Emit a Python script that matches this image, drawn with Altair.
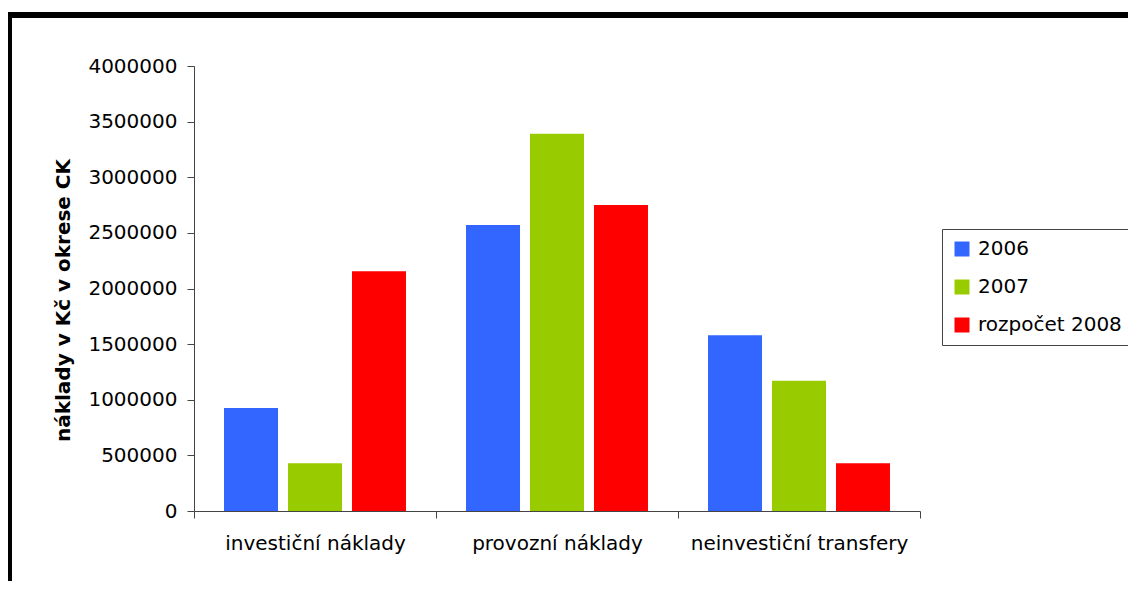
import altair as alt
import pandas as pd

categories = ["investiční náklady", "provozní náklady", "neinvestiční transfery"]
series = ["2006", "2007", "rozpočet 2008"]
values_2006 = [925000, 2570000, 1580000]
values_2007 = [430000, 3390000, 1170000]
values_2008 = [2155000, 2750000, 430000]
colors = ["#3366FF", "#99CC00", "#FF0000"]
y_ticks = [0, 500000, 1000000, 1500000, 2000000, 2500000, 3000000, 3500000, 4000000]

rows = []
for s, vals in zip(series, [values_2006, values_2007, values_2008]):
    for c, v in zip(categories, vals):
        rows.append({"kategorie": c, "rok": s, "hodnota": v})
df = pd.DataFrame(rows)

FONT = "DejaVu Sans"

bars = alt.Chart(df).mark_bar().encode(
    x=alt.X("kategorie:N", sort=categories,
            scale=alt.Scale(paddingInner=0, paddingOuter=0),
            axis=alt.Axis(title=None, labelAngle=0, tickBand="extent",
                          labelFontSize=20, labelFont=FONT, labelColor="black",
                          labelPadding=15, tickSize=7, domainColor="#444444",
                          tickColor="#444444", labelLimit=400)),
    xOffset=alt.XOffset("rok:N", sort=series,
                        scale=alt.Scale(paddingInner=0.156, paddingOuter=0.469)),
    y=alt.Y("hodnota:Q",
            scale=alt.Scale(domain=[0, 4000000], nice=False),
            axis=alt.Axis(title="náklady v Kč v okrese CK", values=y_ticks, format="d",
                          grid=False, labelFontSize=20, labelFont=FONT, labelColor="black",
                          labelPadding=10, tickSize=7, domainColor="#444444",
                          tickColor="#444444", titleFont=FONT, titleFontSize=20,
                          titleFontWeight="bold", titleColor="black", titlePadding=14,
                          titleY=234)),
    color=alt.Color("rok:N", sort=series,
                    scale=alt.Scale(domain=series, range=colors),
                    legend=alt.Legend(title=None, orient="none", legendX=748, legendY=163,
                                      symbolType="square", symbolSize=225,
                                      symbolStrokeWidth=0,
                                      labelFont=FONT, labelFontSize=20, labelColor="black",
                                      labelOffset=6, rowPadding=18, padding=10,
                                      strokeColor="#444444", fillColor="white",
                                      labelLimit=300)),
)

border = alt.Chart(pd.DataFrame({"a": [0]})).mark_rect(
    fill="transparent", stroke="black", strokeWidth=6
).encode(
    x=alt.value(-185), x2=alt.value(1100),
    y=alt.value(-51), y2=alt.value(700),
)

chart = alt.layer(bars, border).properties(
    width=726, height=445,
    background="white",
    autosize=alt.AutoSizeParams(type="none"),
    padding={"left": 186, "top": 58, "right": 208, "bottom": 70},
).configure_view(strokeWidth=0, stroke="transparent")

chart.save("out.html", embed_options={"renderer": "svg", "actions": False})
